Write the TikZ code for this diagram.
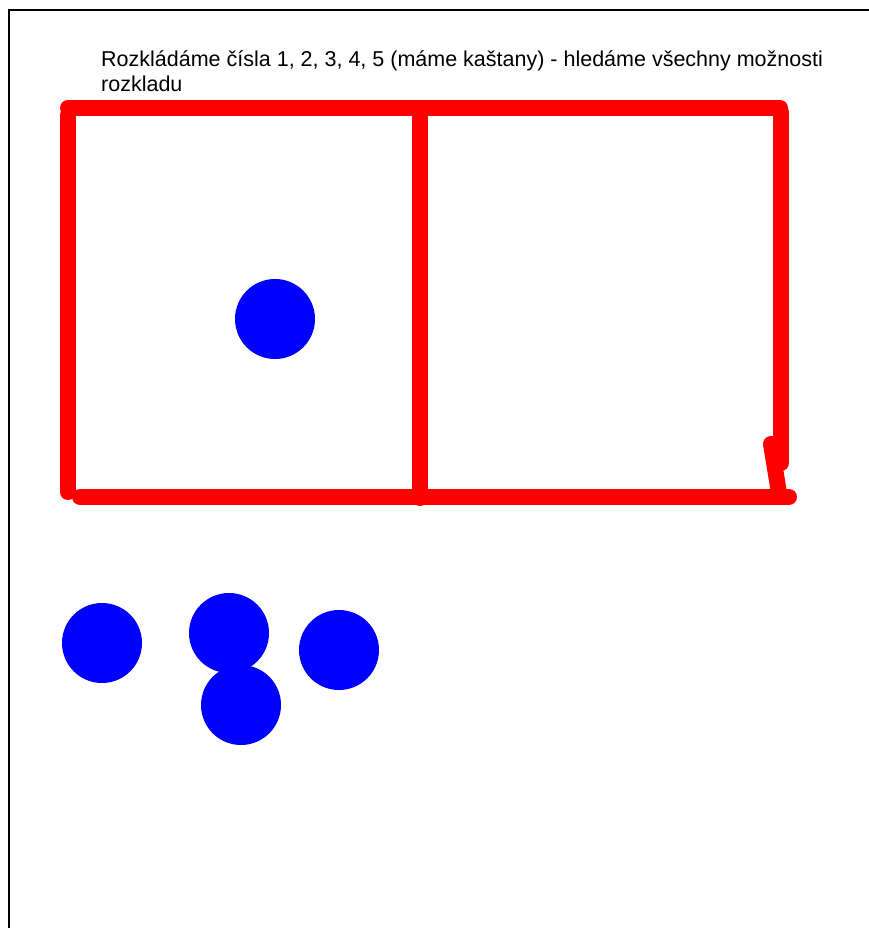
\documentclass[tikz,border=0pt]{standalone}
\usepackage{fontspec}
\setmainfont{Liberation Sans}
\usepackage{xcolor}
\usetikzlibrary{positioning}

\begin{document}
\begin{tikzpicture}[
    x=1pt, y=-1pt,
    frame/.style={draw=black, line width=2pt},
    stroke/.style={draw=red, line width=16pt, line cap=round, line join=round},
    chestnut/.style={circle, fill=blue, inner sep=0pt, minimum size=80pt}
]
\useasboundingbox (0,0) rectangle (869,928);

% Frame
\draw[frame] (8.5,928) -- (8.5,10) -- (869,10);

% Title
\node[anchor=base west, align=left, font=\fontsize{21.5}{25}\selectfont, inner sep=0pt] (title) at (101,92)
    {Rozkládáme čísla 1, 2, 3, 4, 5 (máme kaštany) - hledáme všechny možnosti\\rozkladu};

% Red box
\draw[stroke] (68,108) -- (780,108);
\draw[stroke] (68,115) -- (68,492);
\draw[stroke] (420,112) -- (420,498);
\draw[stroke] (781,112) -- (781,463);
\draw[stroke] (771,444) -- (779,493);
\draw[stroke] (80,497) -- (789,497);

% Chestnuts
\node[chestnut] (inbox) at (275,319) {};
\node[chestnut] (c1) at (102,643) {};
\node[chestnut] (c2) at (229,633) {};
\node[chestnut] (c3) at (241,705) {};
\node[chestnut] (c4) at (339,650) {};

\end{tikzpicture}
\end{document}
